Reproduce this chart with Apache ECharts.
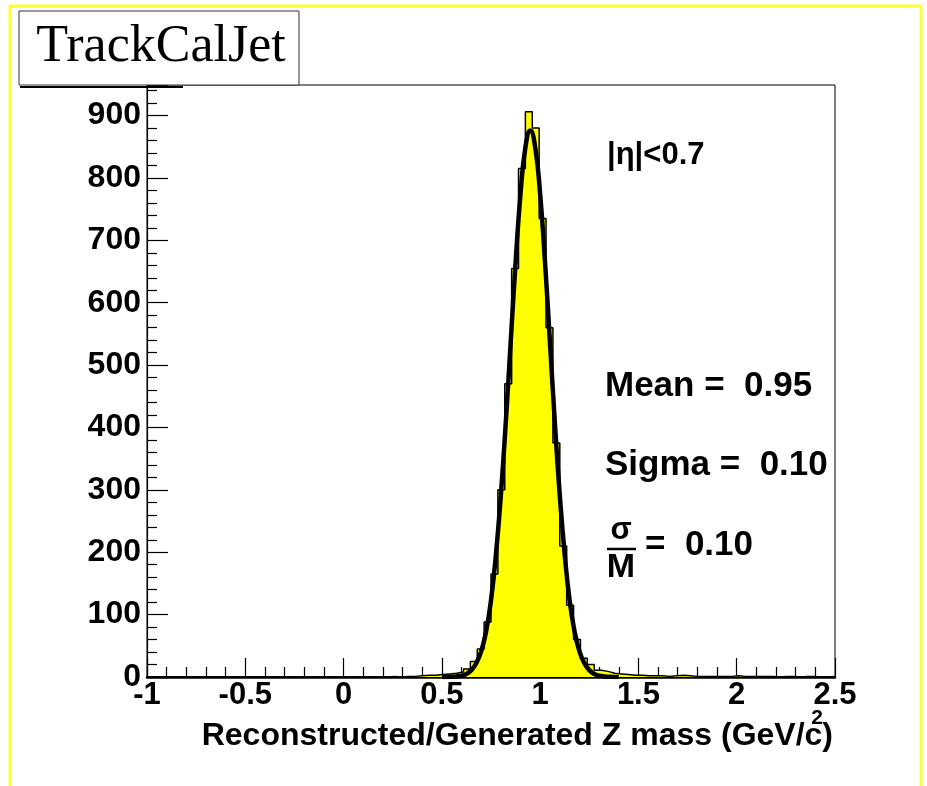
<!DOCTYPE html>
<html>
<head>
<meta charset="utf-8">
<script src="https://cdn.jsdelivr.net/npm/echarts@6/dist/echarts.min.js"></script>
<style>html,body{margin:0;padding:0;background:#fff;}#c{width:927px;height:786px;}</style>
</head>
<body>
<div id="c"></div>
<script>
// ---- data ----
const histLow = -1;
const histHigh = 2.5;
const binWidth = 0.035;
const counts = [
  0,0,0,0,0,0,0,0,0,0,
  0,0,0,0,0,0,0,0,0,0,
  0,0,0,0,0,0,0,0,0,0,
  0,0,0,0,0,1,0,1,1,2,
  3,3,4,5,6,8,13,25,45,88,
  165,300,470,655,815,906,880,735,560,375,
  210,115,60,30,20,11,9,6,5,4,
  3,3,2,2,2,1,2,3,2,1,
  1,1,1,1,1,2,1,1,1,1,
  1,0,1,1,0,1,1,0,0,1
];
const fitX = [0.50,0.55,0.60,0.625,0.65,0.675,0.70,0.725,0.75,0.775,0.80,0.825,0.85,0.875,0.90,0.925,0.95,0.975,1.00,1.025,1.05,1.075,1.10,1.125,1.15,1.175,1.20,1.225,1.25,1.275,1.30,1.35,1.40];
const fitY = [0,0.4,2,5,11,22,41,73,123,196,291,407,536,664,774,849,876,849,774,664,536,407,291,196,123,73,41,22,11,5,2,0.4,0];
const yMax = 949;
const titleText = 'TrackCalJet';
const xTitle = 'Reconstructed/Generated Z mass (GeV/c)';
const statLines = ['|η|<0.7', 'Mean =  0.95', 'Sigma =  0.10', '=  0.10'];

// ---- build ----
const histData = counts.map((c, k) => [histLow + k * binWidth, c]);
histData.push([histHigh, counts[counts.length - 1]]);
const fitData = fitX.map((x, i) => [x, fitY[i]]);

const FONT = 'Liberation Sans, Arial, Helvetica, sans-serif';
const chart = echarts.init(document.getElementById('c'), null, {renderer: 'canvas'});
chart.setOption({
  animation: false,
  backgroundColor: '#fff',
  grid: {left: 147, right: 92, top: 85, bottom: 109, show: true, borderColor: '#000', borderWidth: 1, backgroundColor: '#fff'},
  xAxis: {
    type: 'value', min: histLow, max: histHigh, interval: 0.5,
    axisLine: {show: true, onZero: false, lineStyle: {color: '#000', width: 2.5}},
    axisTick: {show: true, inside: true, length: 19, lineStyle: {color: '#000', width: 1.2}},
    minorTick: {show: true, splitNumber: 5, length: 10, lineStyle: {color: '#000', width: 1.2}},
    splitLine: {show: false},
    axisLabel: {color: '#000', fontSize: 31, fontWeight: 'bold', fontFamily: FONT, margin: 3}
  },
  yAxis: {
    type: 'value', min: 0, max: yMax, interval: 100,
    axisLine: {show: true, onZero: false, lineStyle: {color: '#000', width: 1.2}},
    axisTick: {show: true, inside: true, length: 21, lineStyle: {color: '#000', width: 1.2}},
    minorTick: {show: true, splitNumber: 5, length: 10, lineStyle: {color: '#000', width: 1.2}},
    splitLine: {show: false},
    axisLabel: {color: '#000', fontSize: 32, fontWeight: 'bold', fontFamily: FONT, margin: 6,
      formatter: v => (v % 100 === 0 ? String(v) : '')}
  },
  series: [
    {
      type: 'line', data: histData, step: 'end', symbol: 'none',
      lineStyle: {color: '#000', width: 1.5},
      areaStyle: {color: '#ffff00', opacity: 1, origin: 'start'},
      z: 2
    },
    {
      type: 'line', data: fitData, smooth: true, symbol: 'none',
      lineStyle: {color: '#000', width: 4.5},
      z: 3
    }
  ],
  graphic: [
    // canvas yellow border
    {type: 'line', shape: {x1: 9, y1: 6, x2: 922, y2: 6}, style: {stroke: '#ffff33', lineWidth: 3}},
    {type: 'line', shape: {x1: 10, y1: 5, x2: 10, y2: 786}, style: {stroke: '#ffff33', lineWidth: 3}},
    {type: 'line', shape: {x1: 921, y1: 5, x2: 921, y2: 786}, style: {stroke: '#ffff33', lineWidth: 3}},
    // title box
    {type: 'rect', shape: {x: 19, y: 11, width: 280, height: 74}, style: {fill: '#fff', stroke: '#333', lineWidth: 1}, z: 10},
    {type: 'line', shape: {x1: 20, y1: 87, x2: 183, y2: 87}, style: {stroke: '#000', lineWidth: 2}, z: 10},
    {type: 'text', x: 161, y: 47, z: 11, style: {text: titleText, font: '52px "Liberation Serif", "Times New Roman", serif', fill: '#000', textAlign: 'center', textVerticalAlign: 'middle'}},
    // stats
    {type: 'text', x: 607, y: 155, z: 11, style: {text: statLines[0], font: 'bold 31px ' + FONT, fill: '#000', textAlign: 'left', textVerticalAlign: 'middle'}},
    {type: 'text', x: 605, y: 386, z: 11, style: {text: statLines[1], font: 'bold 35px ' + FONT, fill: '#000', textAlign: 'left', textVerticalAlign: 'middle'}},
    {type: 'text', x: 605, y: 465, z: 11, style: {text: statLines[2], font: 'bold 35px ' + FONT, fill: '#000', textAlign: 'left', textVerticalAlign: 'middle'}},
    {type: 'text', x: 621, y: 530, z: 11, style: {text: 'σ', font: 'bold 31px ' + FONT, fill: '#000', textAlign: 'center', textVerticalAlign: 'middle'}},
    {type: 'line', shape: {x1: 607, y1: 549, x2: 636, y2: 549}, style: {stroke: '#000', lineWidth: 2.5}, z: 11},
    {type: 'text', x: 621, y: 568, z: 11, style: {text: 'M', font: 'bold 34px ' + FONT, fill: '#000', textAlign: 'center', textVerticalAlign: 'middle'}},
    {type: 'text', x: 645, y: 545, z: 11, style: {text: statLines[3], font: 'bold 35px ' + FONT, fill: '#000', textAlign: 'left', textVerticalAlign: 'middle'}},
    // x axis title
    {type: 'text', x: 833, y: 736, z: 11, style: {text: xTitle, font: 'bold 32px ' + FONT, fill: '#000', textAlign: 'right', textVerticalAlign: 'middle'}},
    {type: 'text', x: 817, y: 718, z: 12, style: {text: '2', font: 'bold 21px ' + FONT, fill: '#000', textAlign: 'center', textVerticalAlign: 'middle'}}
  ]
});
</script>
</body>
</html>
